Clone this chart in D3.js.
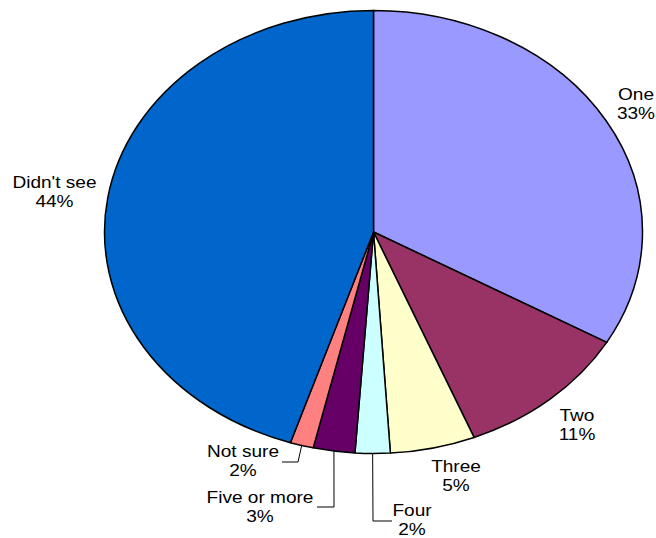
<!DOCTYPE html>
<html lang="en">
<head>
<meta charset="UTF-8">
<title>Pie</title>
<script src="https://cdnjs.cloudflare.com/ajax/libs/d3/7.8.5/d3.min.js"></script>
<style>
    body { margin: 0; background: #fff; }
    .lbl { font-family: Arial, "Liberation Sans", sans-serif; font-size: 16px; fill: #000; text-anchor: middle; }
    .leader { fill: none; stroke: #000; stroke-width: 1; }
</style>
</head>
<body>
<div id="chart"></div>
<script>
// Data
const categories = ["One", "Two", "Three", "Four", "Five or more", "Not sure", "Didn't see"];
const values = [33.3, 10.6, 5.1, 2.1, 2.5, 1.4, 45.0];
const pctLabels = ["33%", "11%", "5%", "2%", "3%", "2%", "44%"];
const colors = ["#9999FF", "#993366", "#FFFFCC", "#CCFFFF", "#660066", "#FF8080", "#0066CC"];

const W = 656, H = 538;
const cx = 373.5, cy = 232;
const rx = 269, ry = 221.5;
const sx = rx / ry;

// label placement: x center, first baseline, leader elbow (optional)
const labelPos = {
    "One": {x: 636, y: 100},
    "Two": {x: 577, y: 421},
    "Three": {x: 456, y: 472},
    "Four": {x: 412, y: 516, leader: [[373, 521], [392, 521]]},
    "Five or more": {x: 260, y: 503, leader: [[334, 507], [317, 507]]},
    "Not sure": {x: 243, y: 457, leader: [[298, 462], [282, 462]]},
    "Didn't see": {x: 54.5, y: 188}
};

const svg = d3.select("#chart").append("svg")
    .attr("width", W).attr("height", H);

const pie = d3.pie().sort(null).value(d => d.value);
const data = categories.map((c, i) => ({name: c, value: values[i], color: colors[i], pct: pctLabels[i]}));
const arcs = pie(data);

const arc = d3.arc().innerRadius(0).outerRadius(ry);

const g = svg.append("g")
    .attr("transform", `translate(${cx},${cy}) scale(${sx},1)`);

g.selectAll("path")
    .data(arcs)
    .join("path")
    .attr("d", arc)
    .attr("fill", d => d.data.color)
    .attr("stroke", "#000")
    .attr("stroke-width", 1.5)
    .attr("stroke-linejoin", "round")
    .attr("vector-effect", "non-scaling-stroke");

// leader lines
arcs.forEach(d => {
    const p = labelPos[d.data.name];
    if (!p.leader) return;
    const mid = (d.startAngle + d.endAngle) / 2;
    const start = [cx + rx * Math.sin(mid), cy - ry * Math.cos(mid)];
    svg.append("path")
        .attr("class", "leader")
        .attr("d", d3.line()([start, ...p.leader]));
});

// labels (text is stretched horizontally like the pie)
arcs.forEach(d => {
    const p = labelPos[d.data.name];
    const t = svg.append("text")
        .attr("class", "lbl")
        .attr("transform", `translate(${p.x},${p.y}) scale(1.19,1)`);
    t.append("tspan").attr("x", 0).attr("y", 0).text(d.data.name);
    t.append("tspan").attr("x", 0).attr("y", 19).text(d.data.pct);
});
</script>
</body>
</html>
